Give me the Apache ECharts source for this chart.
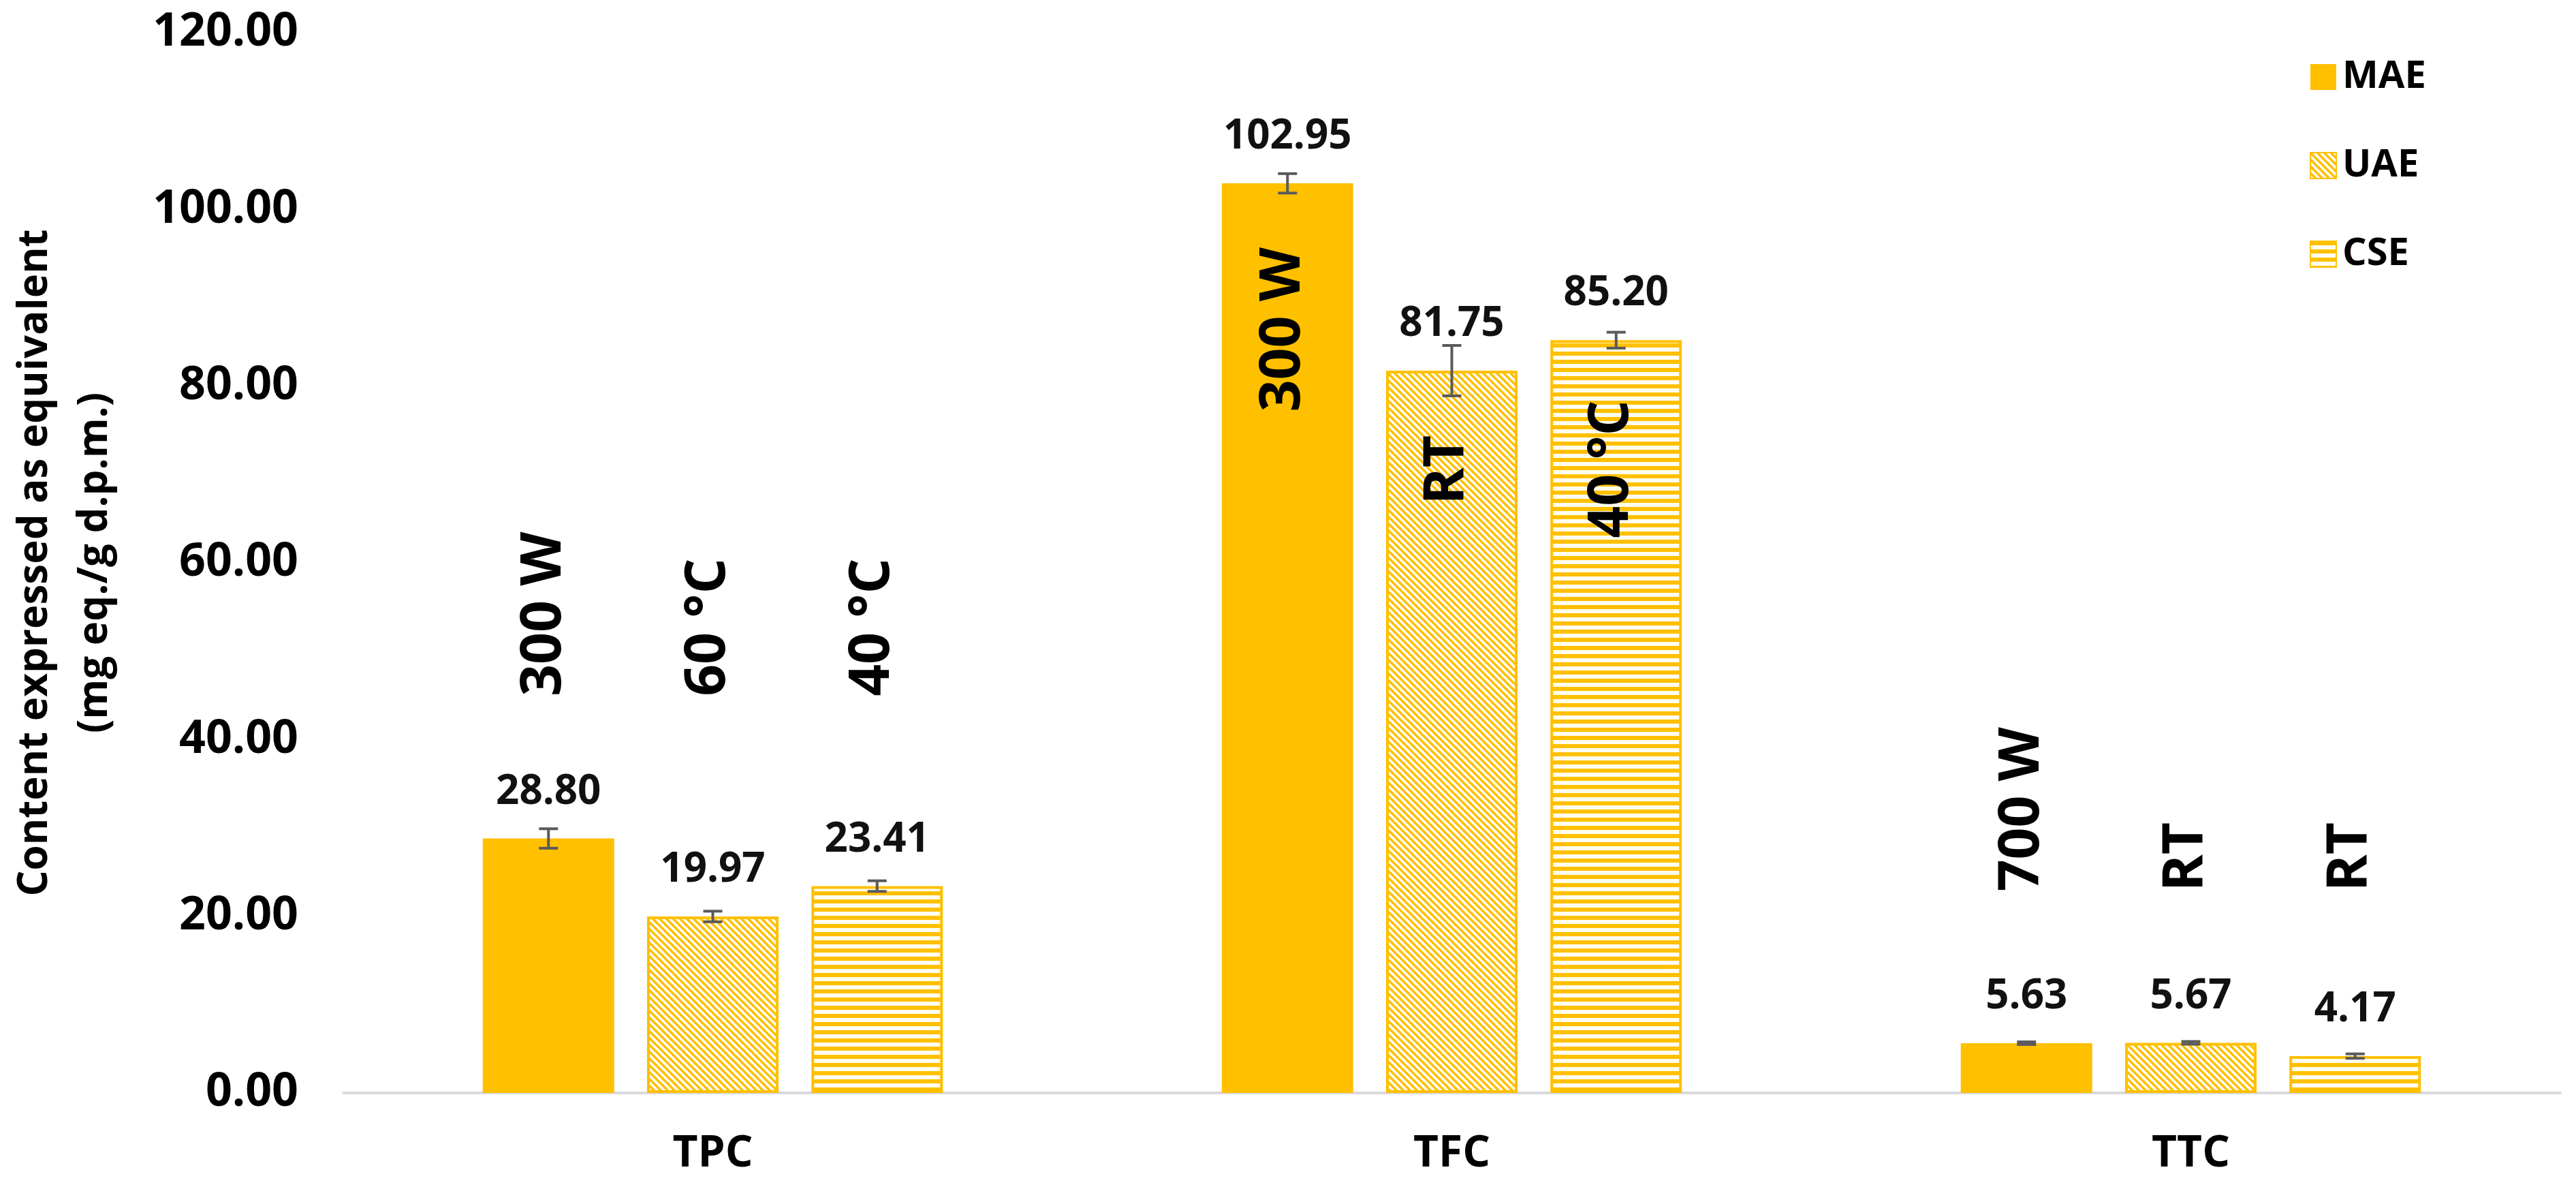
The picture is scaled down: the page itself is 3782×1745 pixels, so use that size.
<!DOCTYPE html>
<html>
<head>
<meta charset="utf-8">
<script src="https://cdn.jsdelivr.net/npm/echarts@6/dist/echarts.min.js"></script>
<style>
html,body{margin:0;padding:0;background:#fff;}
#chart{width:3782px;height:1745px;}
</style>
</head>
<body>
<div id="chart"></div>
<script>
// ---------- data ----------
const categories = ['TPC', 'TFC', 'TTC'];
const seriesNames = ['MAE', 'UAE', 'CSE'];
const maeValues = [28.80, 102.95, 5.63];
const uaeValues = [19.97, 81.75, 5.67];
const cseValues = [23.41, 85.20, 4.17];
const maeErrors = [1.1, 1.1, 0.15];
const uaeErrors = [0.6, 2.85, 0.15];
const cseErrors = [0.6, 0.9, 0.25];
const maeNotes = ['300 W', '300 W', '700 W'];
const uaeNotes = ['60 °C', 'RT', 'RT'];
const cseNotes = ['40 °C', '40 °C', 'RT'];
const maeNoteBase = [44.9, 77.1, 22.8];
const uaeNoteBase = [44.9, 66.6, 22.8];
const cseNoteBase = [44.9, 62.8, 22.8];
const yMin = 0, yMax = 120, yStep = 20;

// ---------- style ----------
const GOLD = '#FFC000';
const FONT = '"Open Sans", "Liberation Sans", sans-serif';
const BAR_W = 193;
const GAP_RATIO = 0.25;
const PITCH = BAR_W * (1 + GAP_RATIO);

function makeDiag() {
  const c = document.createElement('canvas');
  const s = 10;
  c.width = s; c.height = s;
  const g = c.getContext('2d');
  g.fillStyle = '#ffffff'; g.fillRect(0, 0, s, s);
  g.strokeStyle = GOLD; g.lineWidth = 3.6;
  for (let k = -s; k <= s; k += s) {
    g.beginPath(); g.moveTo(-2, k - 2); g.lineTo(s + 2, s + k + 2); g.stroke();
  }
  return c;
}
function makeHoriz() {
  const c = document.createElement('canvas');
  c.width = 12; c.height = 12;
  const g = c.getContext('2d');
  g.fillStyle = '#fffdf0'; g.fillRect(0, 0, 12, 12);
  g.fillStyle = GOLD; g.fillRect(0, 0, 12, 6);
  return c;
}
const fills = [GOLD, { image: makeDiag(), repeat: 'repeat' }, { image: makeHoriz(), repeat: 'repeat' }];
const valueSets = [maeValues, uaeValues, cseValues];
const errorSets = [maeErrors, uaeErrors, cseErrors];
const noteSets = [maeNotes, uaeNotes, cseNotes];
const noteBaseSets = [maeNoteBase, uaeNoteBase, cseNoteBase];

const barSeries = seriesNames.map((name, s) => ({
  name: name,
  type: 'bar',
  barWidth: BAR_W,
  barGap: (GAP_RATIO * 100) + '%',
  data: valueSets[s],
  itemStyle: { color: fills[s], borderColor: GOLD, borderWidth: s === 0 ? 0 : 4 },
  label: {
    show: true, position: 'top', distance: 38,
    formatter: p => p.value.toFixed(2),
    fontFamily: FONT, fontSize: 60, fontWeight: 'bold', color: '#111'
  },
  z: 2
}));

const errData = [];
const noteData = [];
seriesNames.forEach((n, s) => {
  categories.forEach((c, i) => {
    errData.push([i, valueSets[s][i], errorSets[s][i], s]);
    noteData.push([i, noteBaseSets[s][i], s, noteSets[s][i]]);
  });
});

const errorSeries = {
  type: 'custom',
  name: 'err',
  data: errData,
  z: 5,
  silent: true,
  renderItem: function (params, api) {
    const i = api.value(0), v = api.value(1), e = api.value(2), s = api.value(3);
    const x = api.coord([i, v])[0] + (s - 1) * PITCH;
    const yHi = api.coord([i, v + e])[1];
    const yLo = api.coord([i, v - e])[1];
    const cap = 14;
    const st = { stroke: '#5a5a5a', lineWidth: 4 };
    return {
      type: 'group',
      children: [
        { type: 'line', shape: { x1: x, y1: yHi, x2: x, y2: yLo }, style: st },
        { type: 'line', shape: { x1: x - cap, y1: yHi, x2: x + cap, y2: yHi }, style: st },
        { type: 'line', shape: { x1: x - cap, y1: yLo, x2: x + cap, y2: yLo }, style: st }
      ]
    };
  }
};

const noteSeries = {
  type: 'custom',
  name: 'notes',
  data: noteData,
  z: 6,
  silent: true,
  renderItem: function (params, api) {
    const i = api.value(0), b = api.value(1), s = api.value(2);
    const txt = noteData[params.dataIndex][3];
    const pt = api.coord([i, b]);
    return {
      type: 'text',
      x: pt[0] + (s - 1) * PITCH - 6,
      y: pt[1],
      rotation: Math.PI / 2,
      style: {
        text: txt, fill: '#000', font: 'bold 82px ' + FONT,
        align: 'left', verticalAlign: 'middle'
      }
    };
  }
};

const chart = echarts.init(document.getElementById('chart'), null, { renderer: 'canvas' });
chart.setOption({
  animation: false,
  backgroundColor: '#ffffff',
  grid: { left: 497, right: 23, top: 48, bottom: 141, containLabel: false },
  legend: {
    data: seriesNames,
    orient: 'vertical',
    left: 3386, top: 80,
    itemWidth: 38, itemHeight: 38, itemGap: 74,
    icon: 'rect',
    textStyle: { fontFamily: FONT, fontSize: 56, fontWeight: 'bold', color: '#000', padding: [0, 0, 0, 4], lineHeight: 56 }
  },
  xAxis: {
    type: 'category',
    data: categories,
    axisLine: { lineStyle: { color: '#d9d9de', width: 4 } },
    axisTick: { show: false },
    axisLabel: { fontFamily: FONT, fontSize: 64, fontWeight: 'bold', color: '#000', margin: 58 }
  },
  yAxis: {
    type: 'value',
    min: yMin, max: yMax, interval: yStep,
    name: 'Content expressed as equivalent\n(mg eq./g d.p.m.)',
    nameLocation: 'middle',
    nameRotate: 90,
    nameGap: 320,
    nameTextStyle: { fontFamily: FONT, fontSize: 60, fontWeight: 'bold', color: '#000', lineHeight: 88 },
    axisLine: { show: false },
    axisTick: { show: false },
    splitLine: { show: false },
    axisLabel: { formatter: v => v.toFixed(2), fontFamily: FONT, fontSize: 68, fontWeight: 'bold', color: '#000', margin: 66 }
  },
  series: [...barSeries, errorSeries, noteSeries]
});
</script>
</body>
</html>
